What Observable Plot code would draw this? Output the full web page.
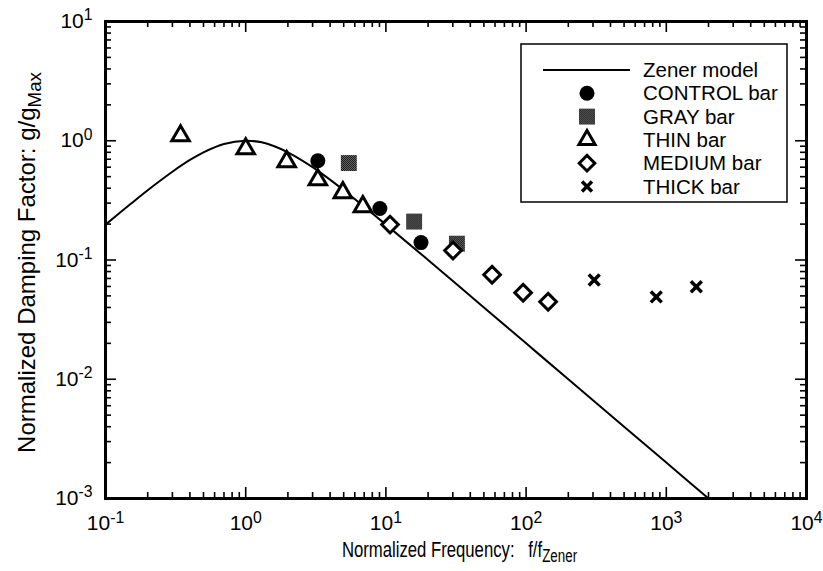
<!DOCTYPE html>
<html><head><meta charset="utf-8">
<script src="https://cdn.jsdelivr.net/npm/d3@7"></script>
<script src="https://cdn.jsdelivr.net/npm/@observablehq/plot@0.6"></script>
<style>
html,body{margin:0;padding:0;background:#fff;}
#chart{position:relative;width:823px;height:571px;}
</style></head><body><div id="chart"></div>
<script>
// Zener model curve
const zenerF = [0.1, 0.15, 0.2, 0.3, 0.4, 0.5, 0.7, 1, 1.3, 1.6, 2, 3, 5, 7, 10, 20, 50, 100, 200, 500, 1000, 2000];
const zenerG = [0.198, 0.293, 0.385, 0.55, 0.69, 0.80, 0.94, 1.0, 0.97, 0.90, 0.80, 0.60, 0.385, 0.28, 0.198, 0.10, 0.04, 0.02, 0.01, 0.004, 0.002, 0.001];
// measured points
const controlF = [3.27, 9.06, 17.8];
const controlG = [0.68, 0.27, 0.14];
const grayF = [5.44, 15.9, 32.1];
const grayG = [0.65, 0.21, 0.137];
const thinF = [0.343, 1.0, 1.96, 3.27, 4.93, 6.85];
const thinG = [1.10, 0.857, 0.667, 0.471, 0.367, 0.28];
const mediumF = [10.7, 30.1, 57.2, 95.2, 143.6];
const mediumG = [0.198, 0.12, 0.0753, 0.0532, 0.0447];
const thickF = [306, 848, 1637];
const thickG = [0.068, 0.049, 0.0597];
// ticks
const xMajor = [0.1, 1, 10, 100, 1000, 10000];
const xMajorLabels = ["10^-1", "10^0", "10^1", "10^2", "10^3", "10^4"];
const yMajor = [0.001, 0.01, 0.1, 1, 10];
const yMajorLabels = ["10^-3", "10^-2", "10^-1", "10^0", "10^1"];
const minorMult = [2, 3, 4, 5, 6, 7, 8, 9];
const legendLabels = ["Zener model", "CONTROL bar", "GRAY bar", "THIN bar", "MEDIUM bar", "THICK bar"];
const xTitle = ["Normalized Frequency:", "f/f", "Zener"];
const yTitle = ["Normalized Damping Factor: g/g", "Max"];

const W = 823, H = 571, mL = 105, mR = 17, mT = 21, mB = 73;
const innerW = W - mL - mR, innerH = H - mT - mB;
const font = "'Liberation Sans', Arial, Helvetica, sans-serif";
const pts = (F, G) => F.map((f, i) => ({f, g: G[i]}));
const xMinor = xMajor.slice(0, -1).flatMap(m => minorMult.map(k => m * k));
const yMinor = yMajor.slice(0, -1).flatMap(m => minorMult.map(k => m * k));
const lab = (vals, labels) => d => labels[vals.findIndex(v => Math.abs(Math.log10(v) - Math.log10(d)) < 1e-6)] ?? "";
const MAJ = 11, MIN = 6;
const tk = {stroke: "black", strokeWidth: 1.6};

const svg = Plot.plot({
  width: W, height: H,
  marginLeft: mL, marginRight: mR, marginTop: mT, marginBottom: mB,
  style: {fontFamily: font, fontSize: "21px", color: "black", background: "white"},
  x: {type: "log", domain: [0.1, 10000]},
  y: {type: "log", domain: [0.001, 10]},
  marks: [
    // inward ticks on all four sides
    Plot.tickX(xMajor, {x: d => d, insetTop: innerH - MAJ, ...tk}),
    Plot.tickX(xMinor, {x: d => d, insetTop: innerH - MIN, ...tk}),
    Plot.tickX(xMajor, {x: d => d, insetBottom: innerH - MAJ, ...tk}),
    Plot.tickX(xMinor, {x: d => d, insetBottom: innerH - MIN, ...tk}),
    Plot.tickY(yMajor, {y: d => d, insetRight: innerW - MAJ, ...tk}),
    Plot.tickY(yMinor, {y: d => d, insetRight: innerW - MIN, ...tk}),
    Plot.tickY(yMajor, {y: d => d, insetLeft: innerW - MAJ, ...tk}),
    Plot.tickY(yMinor, {y: d => d, insetLeft: innerW - MIN, ...tk}),
    // tick labels
    Plot.axisX({ticks: xMajor, anchor: "bottom", tickSize: 0, tickPadding: 17, tickFormat: lab(xMajor, xMajorLabels), label: null, fontSize: 21}),
    Plot.axisY({ticks: yMajor, anchor: "left", tickSize: 0, tickPadding: 13, tickFormat: lab(yMajor, yMajorLabels), label: null, fontSize: 21}),
    // data
    Plot.line(pts(zenerF, zenerG), {x: "f", y: "g", stroke: "black", strokeWidth: 2, curve: "catmull-rom"}),
    Plot.dot(pts(controlF, controlG), {x: "f", y: "g", r: 7.5, fill: "black", stroke: "none"}),
    Plot.dot(pts(grayF, grayG), {x: "f", y: "g", symbol: "square", r: 9, fill: "url(#dither)", stroke: "none"}),
    Plot.dot(pts(thinF, thinG), {x: "f", y: "g", symbol: "triangle", r: 6.5, fill: "white", stroke: "black", strokeWidth: 3}),
    Plot.dot(pts(mediumF, mediumG), {x: "f", y: "g", symbol: "diamond2", r: 7.5, fill: "white", stroke: "black", strokeWidth: 3}),
    Plot.dot(pts(thickF, thickG), {x: "f", y: "g", symbol: "times", r: 5, stroke: "black", strokeWidth: 3.5}),
    Plot.frame({stroke: "black", strokeWidth: 3})
  ]
});

const s = d3.select(svg);
s.insert("defs", ":first-child").html(
  '<pattern id="dither" width="2" height="2" patternUnits="userSpaceOnUse">' +
  '<rect width="2" height="2" fill="#808080"/><rect width="1" height="1" fill="#000"/>' +
  '<rect x="1" y="1" width="1" height="1" fill="#000"/></pattern>');

// superscripts on tick labels
s.selectAll("text").each(function () {
  const m = /^10\^(-?\d+)$/.exec(this.textContent);
  if (!m) return;
  const t = d3.select(this);
  t.text(null);
  t.append("tspan").text("10");
  t.append("tspan").attr("dy", "-0.5em").attr("font-size", "0.75em").text(m[1]);
});

// axis titles
const cx = mL + innerW / 2, cy = mT + innerH / 2;
const xt = s.append("text").attr("transform", `translate(${cx + 4},${H - 14}) scale(0.76,1)`).attr("text-anchor", "middle")
  .attr("font-family", font).attr("font-size", 22).attr("fill", "black");
xt.append("tspan").text(xTitle[0]);
xt.append("tspan").attr("dx", 18).text(xTitle[1]);
xt.append("tspan").attr("dy", "0.3em").attr("font-size", "0.8em").text(xTitle[2]);

const yt = s.append("text").attr("transform", `translate(35,${cy + 3}) rotate(-90)`).attr("text-anchor", "middle")
  .attr("font-family", font).attr("font-size", 24).attr("fill", "black");
yt.append("tspan").text(yTitle[0]);
yt.append("tspan").attr("dy", "0.3em").attr("font-size", "0.78em").text(yTitle[1]);

// legend
const lg = s.append("g").attr("font-family", font).attr("font-size", 20.5).attr("text-anchor", "start");
lg.append("rect").attr("x", 521).attr("y", 44).attr("width", 266).attr("height", 158)
  .attr("fill", "white").attr("stroke", "black").attr("stroke-width", 1.5);
const rowY = i => 70 + i * 23.3, symX = 587;
lg.append("line").attr("x1", 543).attr("x2", 630).attr("y1", rowY(0)).attr("y2", rowY(0))
  .attr("stroke", "black").attr("stroke-width", 2);
const sym = (type, r) => d3.symbol(type, Math.PI * r * r)();
const legSyms = [
  null,
  {d: sym(d3.symbolCircle, 7.5), fill: "black", stroke: "none", sw: 0},
  {d: sym(d3.symbolSquare, 9), fill: "url(#dither)", stroke: "none", sw: 0},
  {d: sym(d3.symbolTriangle, 6), fill: "white", stroke: "black", sw: 3},
  {d: sym(d3.symbolDiamond2, 7), fill: "white", stroke: "black", sw: 3},
  {d: sym(d3.symbolTimes, 4.6), fill: "none", stroke: "black", sw: 3.5}
];
legendLabels.forEach((label, i) => {
  const sd = legSyms[i];
  if (sd) lg.append("path").attr("d", sd.d).attr("transform", `translate(${symX},${rowY(i)})`)
    .attr("fill", sd.fill).attr("stroke", sd.stroke).attr("stroke-width", sd.sw);
  lg.append("text").attr("x", 643).attr("y", rowY(i) + 7).attr("fill", "black").text(label);
});

document.getElementById("chart").appendChild(svg);
</script></body></html>
